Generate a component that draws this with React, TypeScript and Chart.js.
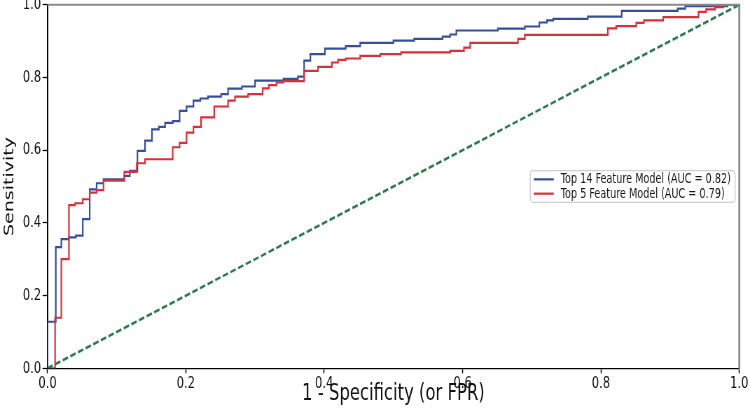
import React, { useEffect, useRef } from 'react';
import { Chart, registerables } from 'chart.js';

Chart.register(...registerables);

// ---------------- data ----------------
const seriesLabels = ['Top 14 Feature Model (AUC = 0.82)', 'Top 5 Feature Model (AUC = 0.79)'];
const seriesColors = ['#354f9c', '#d8313a'];
const chanceColor = '#2b7b4b';

const xTitle = '1 - Specificity (or FPR)';
const yTitle = 'Sensitivity';
const tickValues = [0, 0.2, 0.4, 0.6, 0.8, 1.0];

const top14Fpr = [0, 0, 0.012, 0.02, 0.031, 0.041, 0.051, 0.061, 0.071, 0.081, 0.111, 0.119, 0.13, 0.141, 0.151, 0.161, 0.17, 0.181, 0.191, 0.201, 0.211, 0.221, 0.232, 0.251, 0.261, 0.281, 0.3, 0.341, 0.362, 0.371, 0.38, 0.401, 0.431, 0.452, 0.5, 0.53, 0.571, 0.582, 0.591, 0.651, 0.69, 0.711, 0.722, 0.731, 0.781, 0.83, 0.911, 0.922, 0.983, 1.0];
const top14Tpr = [0, 0.128, 0.333, 0.355, 0.36, 0.365, 0.41, 0.492, 0.509, 0.52, 0.529, 0.543, 0.598, 0.626, 0.657, 0.664, 0.675, 0.68, 0.708, 0.72, 0.736, 0.742, 0.747, 0.754, 0.769, 0.775, 0.791, 0.796, 0.802, 0.846, 0.864, 0.879, 0.886, 0.895, 0.901, 0.906, 0.912, 0.918, 0.929, 0.934, 0.94, 0.951, 0.957, 0.961, 0.967, 0.983, 0.989, 0.996, 1.0, 1.0];

const top5Fpr = [0, 0.011, 0.02, 0.031, 0.04, 0.051, 0.061, 0.071, 0.081, 0.111, 0.129, 0.141, 0.181, 0.191, 0.201, 0.211, 0.222, 0.241, 0.261, 0.271, 0.29, 0.311, 0.32, 0.331, 0.341, 0.371, 0.391, 0.411, 0.42, 0.431, 0.452, 0.481, 0.511, 0.582, 0.602, 0.611, 0.68, 0.69, 0.81, 0.822, 0.851, 0.862, 0.89, 0.941, 0.952, 0.965, 0.977, 1.0];
const top5Tpr = [0, 0.139, 0.3, 0.449, 0.454, 0.465, 0.483, 0.49, 0.516, 0.54, 0.564, 0.575, 0.608, 0.62, 0.648, 0.664, 0.69, 0.72, 0.736, 0.747, 0.754, 0.77, 0.779, 0.786, 0.79, 0.818, 0.829, 0.841, 0.848, 0.852, 0.859, 0.864, 0.869, 0.873, 0.882, 0.895, 0.906, 0.917, 0.935, 0.941, 0.95, 0.957, 0.966, 0.98, 0.987, 0.993, 1.0, 1.0];

const chanceFpr = [0, 1];
const chanceTpr = [0, 1];

// ---------------- layout ----------------
const CSS_W = 750;
const CSS_H = 408;
const CANVAS_W = 1071; // drawn wide, then squeezed horizontally like the reference
const CANVAS_H = 408;
const FONT = "'DejaVu Sans', sans-serif";

const toPoints = (xs: number[], ys: number[]) => xs.map((x, i) => ({ x, y: ys[i] }));

const framePlugin = {
  id: 'frame',
  afterDatasetsDraw(chart: any) {
    const { ctx, chartArea: a } = chart;
    ctx.save();
    ctx.strokeStyle = '#8a8a8a';
    ctx.lineWidth = 2;
    ctx.beginPath();
    ctx.moveTo(a.left, a.top);
    ctx.lineTo(a.right, a.top);
    ctx.stroke();
    ctx.lineWidth = 2.8;
    ctx.beginPath();
    ctx.moveTo(a.right, a.top - 1);
    ctx.lineTo(a.right, a.bottom);
    ctx.stroke();
    ctx.restore();
  },
};

const boxLegendPlugin = {
  id: 'boxLegend',
  afterDraw(chart: any) {
    const { ctx, chartArea: a } = chart;
    ctx.save();
    ctx.font = `13.8px ${FONT}`;
    const rowH = 14.3;
    const padL = 5;
    const lineLen = 28.6;
    const gap = 10;
    const padR = 6;
    const padY = 1.6;
    const textW = Math.max(...seriesLabels.map((t) => ctx.measureText(t).width));
    const boxW = padL + lineLen + gap + textW + padR;
    const boxH = padY * 2 + rowH * seriesLabels.length;
    const boxX = a.right - 6 - boxW;
    const boxY = (a.top + a.bottom) / 2 - boxH / 2;
    ctx.beginPath();
    if ((ctx as any).roundRect) (ctx as any).roundRect(boxX, boxY, boxW, boxH, 4);
    else ctx.rect(boxX, boxY, boxW, boxH);
    ctx.fillStyle = 'rgba(255,255,255,0.85)';
    ctx.fill();
    ctx.strokeStyle = '#cfcfcf';
    ctx.lineWidth = 1.4;
    ctx.stroke();
    ctx.textBaseline = 'middle';
    ctx.textAlign = 'left';
    seriesLabels.forEach((label, i) => {
      const cy = boxY + padY + rowH * (i + 0.5);
      ctx.strokeStyle = seriesColors[i];
      ctx.lineWidth = 2.2;
      ctx.beginPath();
      ctx.moveTo(boxX + padL, cy);
      ctx.lineTo(boxX + padL + lineLen, cy);
      ctx.stroke();
      ctx.fillStyle = '#1a1a1a';
      ctx.fillText(label, boxX + padL + lineLen + gap, cy + 0.5);
    });
    ctx.restore();
  },
};

export default function App() {
  const ref = useRef<HTMLCanvasElement>(null);

  useEffect(() => {
    const canvas = ref.current;
    if (!canvas) return;
    const tickFont = { family: FONT, size: 16.5 };
    const chart = new Chart(canvas, {
      type: 'scatter',
      data: {
        datasets: [
          {
            label: 'Chance',
            data: toPoints(chanceFpr, chanceTpr),
            showLine: true,
            borderColor: chanceColor,
            borderWidth: 2.6,
            borderDash: [8, 3.6],
            pointRadius: 0,
            fill: false,
          },
          {
            label: seriesLabels[1],
            data: toPoints(top5Fpr, top5Tpr),
            showLine: true,
            stepped: true,
            borderColor: seriesColors[1],
            borderWidth: 2.2,
            pointRadius: 0,
            fill: false,
          },
          {
            label: seriesLabels[0],
            data: toPoints(top14Fpr, top14Tpr),
            showLine: true,
            stepped: true,
            borderColor: seriesColors[0],
            borderWidth: 2.2,
            pointRadius: 0,
            fill: false,
          },
        ],
      } as any,
      options: {
        responsive: false,
        animation: false,
        devicePixelRatio: 1,
        layout: { padding: { top: 4.7, right: 15.3, left: 0, bottom: 0 } },
        plugins: { legend: { display: false }, tooltip: { enabled: false } },
        scales: {
          x: {
            type: 'linear',
            min: 0,
            max: 1,
            afterFit: (s: any) => {
              s.height = 39.7;
              s.paddingLeft = 0;
              s.paddingRight = 0;
            },
            afterBuildTicks: (s: any) => {
              s.ticks = tickValues.map((v) => ({ value: v }));
            },
            ticks: {
              autoSkip: false,
              maxRotation: 0,
              padding: 1,
              color: '#111',
              font: tickFont,
              callback: (v: any) => Number(v).toFixed(1),
            },
            grid: { drawOnChartArea: false, drawTicks: true, tickLength: 5, tickColor: '#000', tickWidth: 1.5 },
            border: { display: true, color: '#000', width: 1.3 },
            title: { display: true, text: xTitle, color: '#111', font: { family: FONT, size: 23.5 }, padding: { top: 0, bottom: 0 } },
          },
          y: {
            type: 'linear',
            min: 0,
            max: 1,
            afterFit: (s: any) => {
              s.width = 67.8;
              s.paddingTop = 0;
              s.paddingBottom = 0;
            },
            afterBuildTicks: (s: any) => {
              s.ticks = tickValues.map((v) => ({ value: v }));
            },
            ticks: {
              autoSkip: false,
              padding: 2,
              color: '#111',
              font: tickFont,
              callback: (v: any) => Number(v).toFixed(1),
            },
            grid: { drawOnChartArea: false, drawTicks: true, tickLength: 7, tickColor: '#000', tickWidth: 1.3 },
            border: { display: true, color: '#000', width: 2 },
            title: { display: true, text: yTitle, color: '#111', font: { family: FONT, size: 19 }, padding: { top: 2.5, bottom: 0 } },
          },
        },
      } as any,
      plugins: [framePlugin, boxLegendPlugin],
    });
    return () => chart.destroy();
  }, []);

  return (
    <div style={{ position: 'fixed', left: 0, top: 0, width: CSS_W, height: CSS_H, overflow: 'hidden', background: '#fff' }}>
      <canvas ref={ref} width={CANVAS_W} height={CANVAS_H} style={{ width: CSS_W, height: CSS_H, display: 'block' }} />
    </div>
  );
}
